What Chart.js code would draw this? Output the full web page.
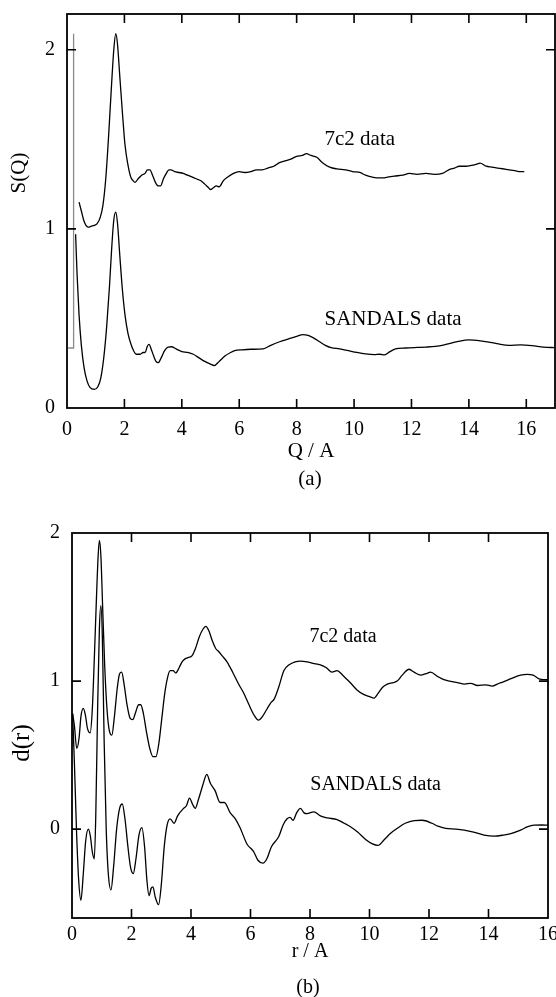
<!DOCTYPE html>
<html>
<head>
<meta charset="utf-8">
<script src="https://cdn.jsdelivr.net/npm/chart.js@4.4.1/dist/chart.umd.min.js"></script>
<style>
  html, body { margin: 0; padding: 0; background: #fff; }
  #wrap { position: relative; width: 556px; height: 997px; overflow: hidden; }
  canvas { position: absolute; left: 0; }
  #sq { top: 0; }
  #dr { top: 495px; }
</style>
</head>
<body>
<div id="wrap">
  <canvas id="sq" width="556" height="495"></canvas>
  <canvas id="dr" width="556" height="502"></canvas>
</div>
<script>
/* ---------- data: (a) S(Q) ---------- */
const qTicks = [0, 2, 4, 6, 8, 10, 12, 14, 16];
const sTicks = [0, 1, 2];

// small-angle step drawn in grey at the left edge
const qStep = [0.04, 0.23, 0.23];
const sStep = [0.335, 0.335, 2.09];

const qSandals = [0.30, 0.35, 0.42, 0.5, 0.6, 0.7, 0.8, 0.95, 1.08, 1.18, 1.28, 1.38, 1.48, 1.56, 1.63, 1.70, 1.76, 1.84, 1.93, 2.02,
  2.12, 2.22, 2.32, 2.42, 2.55, 2.65, 2.72, 2.80, 2.86, 2.93, 3.02, 3.10, 3.18, 3.28, 3.40, 3.52, 3.64, 3.8, 4.0, 4.2,
  4.4, 4.6, 4.8, 5.0, 5.13, 5.3, 5.5, 5.7, 5.84, 6.1, 6.4, 6.83, 7.1, 7.41, 7.7, 8.0, 8.22, 8.4, 8.6, 8.8,
  9.0, 9.2, 9.5, 9.8, 10.1, 10.4, 10.7, 10.9, 11.06, 11.25, 11.44, 11.8, 12.2, 12.5, 12.83, 13.2, 13.6, 14.0, 14.4, 14.8,
  15.1, 15.4, 15.8, 16.2, 16.6, 17.0];
const sSandals = [0.97, 0.75, 0.52, 0.35, 0.22, 0.15, 0.115, 0.104, 0.12, 0.17, 0.28, 0.45, 0.68, 0.90, 1.05, 1.094, 1.03, 0.85, 0.66, 0.52,
  0.42, 0.36, 0.32, 0.30, 0.30, 0.31, 0.31, 0.345, 0.355, 0.33, 0.29, 0.26, 0.253, 0.28, 0.32, 0.34, 0.342, 0.33, 0.315, 0.31,
  0.30, 0.28, 0.26, 0.245, 0.237, 0.26, 0.29, 0.31, 0.32, 0.325, 0.328, 0.33, 0.35, 0.37, 0.385, 0.40, 0.41, 0.405, 0.39, 0.37,
  0.35, 0.337, 0.33, 0.32, 0.31, 0.302, 0.298, 0.30, 0.297, 0.315, 0.33, 0.335, 0.338, 0.34, 0.344, 0.355, 0.37, 0.38, 0.375, 0.365,
  0.355, 0.35, 0.352, 0.348, 0.34, 0.337];

const q7c2 = [0.42, 0.5, 0.58, 0.66, 0.74, 0.85, 0.95, 1.05, 1.15, 1.25, 1.35, 1.45, 1.55, 1.63, 1.70, 1.76, 1.84, 1.93, 2.02, 2.12,
  2.22, 2.30, 2.37, 2.48, 2.60, 2.72, 2.80, 2.89, 2.98, 3.08, 3.18, 3.26, 3.36, 3.46, 3.55, 3.62, 3.75, 3.9, 4.05, 4.2,
  4.35, 4.5, 4.65, 4.8, 4.9, 5.0, 5.1, 5.2, 5.3, 5.45, 5.6, 5.8, 6.0, 6.2, 6.4, 6.6, 6.8, 7.0, 7.2, 7.4,
  7.6, 7.8, 8.0, 8.2, 8.34, 8.5, 8.7, 8.9, 9.15, 9.4, 9.7, 9.95, 10.2, 10.4, 10.6, 10.8, 11.0, 11.2, 11.4, 11.7,
  11.93, 12.2, 12.5, 12.8, 13.08, 13.3, 13.5, 13.67, 13.9, 14.1, 14.25, 14.39, 14.6, 14.8, 15.0, 15.17, 15.4, 15.6, 15.8, 15.93];
const s7c2 = [1.15, 1.10, 1.05, 1.02, 1.01, 1.015, 1.02, 1.03, 1.06, 1.13, 1.28, 1.52, 1.80, 2.00, 2.09, 2.03, 1.85, 1.65, 1.47, 1.36,
  1.29, 1.27, 1.26, 1.28, 1.30, 1.31, 1.33, 1.33, 1.30, 1.26, 1.24, 1.24, 1.28, 1.31, 1.33, 1.33, 1.32, 1.315, 1.31, 1.30,
  1.29, 1.28, 1.27, 1.25, 1.235, 1.22, 1.23, 1.24, 1.235, 1.27, 1.29, 1.31, 1.32, 1.315, 1.32, 1.33, 1.33, 1.34, 1.35, 1.37,
  1.38, 1.39, 1.405, 1.41, 1.42, 1.41, 1.40, 1.37, 1.345, 1.335, 1.33, 1.32, 1.315, 1.30, 1.29, 1.285, 1.285, 1.29, 1.295, 1.30,
  1.31, 1.305, 1.31, 1.305, 1.31, 1.33, 1.34, 1.35, 1.35, 1.355, 1.36, 1.367, 1.35, 1.345, 1.34, 1.336, 1.33, 1.325, 1.32, 1.32];

/* ---------- data: (b) d(r) ---------- */
const rTicks = [0, 2, 4, 6, 8, 10, 12, 14, 16];
const dTicks = [0, 1, 2];

const r7c2 = [0.02, 0.08, 0.16, 0.24, 0.30, 0.38, 0.45, 0.52, 0.61, 0.68, 0.75, 0.82, 0.88, 0.92, 0.97, 1.03, 1.10, 1.18, 1.26, 1.34,
  1.42, 1.52, 1.60, 1.67, 1.75, 1.85, 1.95, 2.04, 2.14, 2.24, 2.31, 2.40, 2.50, 2.62, 2.72, 2.82, 2.92, 3.02, 3.12, 3.22,
  3.3, 3.4, 3.49, 3.6, 3.7, 3.8, 3.92, 4.03, 4.15, 4.28, 4.4, 4.5, 4.6, 4.72, 4.83, 4.93, 5.05, 5.21, 5.4, 5.6,
  5.77, 5.95, 6.12, 6.27, 6.4, 6.55, 6.67, 6.8, 6.95, 7.12, 7.3, 7.5, 7.68, 7.9, 8.1, 8.35, 8.55, 8.74, 8.91, 9.1,
  9.35, 9.58, 9.8, 10.0, 10.15, 10.3, 10.45, 10.6, 10.8, 10.93, 11.1, 11.33, 11.5, 11.72, 11.9, 12.05, 12.3, 12.5, 12.7, 12.95,
  13.2, 13.4, 13.63, 13.9, 14.13, 14.3, 14.5, 14.8, 15.08, 15.3, 15.5, 15.7, 15.85, 16.0];
const d7c2 = [0.78, 0.70, 0.545, 0.62, 0.76, 0.815, 0.77, 0.68, 0.65, 0.80, 1.15, 1.55, 1.85, 1.95, 1.85, 1.50, 1.10, 0.80, 0.66, 0.635,
  0.75, 0.95, 1.05, 1.06, 0.98, 0.84, 0.75, 0.74, 0.79, 0.84, 0.84, 0.78, 0.66, 0.54, 0.49, 0.49, 0.58, 0.75, 0.92, 1.03,
  1.07, 1.07, 1.055, 1.09, 1.13, 1.15, 1.16, 1.17, 1.22, 1.30, 1.35, 1.37, 1.34, 1.27, 1.22, 1.20, 1.17, 1.13, 1.06, 0.98,
  0.92, 0.84, 0.77, 0.736, 0.76, 0.81, 0.85, 0.88, 0.96, 1.07, 1.11, 1.13, 1.135, 1.13, 1.12, 1.11, 1.09, 1.06, 1.07, 1.04,
  0.99, 0.94, 0.91, 0.895, 0.885, 0.92, 0.96, 0.98, 0.99, 1.00, 1.04, 1.08, 1.06, 1.04, 1.05, 1.06, 1.03, 1.01, 1.00, 0.99,
  0.98, 0.985, 0.97, 0.975, 0.966, 0.98, 0.995, 1.02, 1.04, 1.045, 1.04, 1.015, 1.01, 1.01];

const rSandals = [0.02, 0.08, 0.15, 0.22, 0.30, 0.38, 0.46, 0.55, 0.62, 0.68, 0.75, 0.80, 0.86, 0.92, 0.97, 1.02, 1.08, 1.15, 1.22, 1.31,
  1.40, 1.50, 1.60, 1.69, 1.78, 1.88, 1.97, 2.06, 2.15, 2.25, 2.35, 2.44, 2.52, 2.59, 2.66, 2.72, 2.80, 2.91, 3.00, 3.10,
  3.20, 3.30, 3.43, 3.55, 3.75, 3.85, 3.95, 4.05, 4.14, 4.25, 4.40, 4.53, 4.65, 4.81, 4.98, 5.12, 5.32, 5.49, 5.65, 5.88,
  6.1, 6.25, 6.42, 6.55, 6.70, 6.95, 7.10, 7.23, 7.33, 7.43, 7.55, 7.68, 7.8, 7.9, 8.13, 8.35, 8.58, 8.91, 9.15, 9.36,
  9.6, 9.87, 10.1, 10.28, 10.5, 10.7, 10.93, 11.2, 11.5, 11.77, 12.1, 12.3, 12.56, 12.9, 13.18, 13.5, 13.85, 14.19, 14.5, 14.75,
  15.1, 15.3, 15.53, 15.8, 16.0];
const dSandals = [0.78, 0.45, 0.0, -0.33, -0.48, -0.30, -0.08, 0.0, -0.05, -0.15, -0.20, 0.10, 0.80, 1.35, 1.51, 1.30, 0.60, 0.00, -0.30, -0.41,
  -0.25, 0.00, 0.14, 0.17, 0.07, -0.12, -0.26, -0.30, -0.20, -0.04, 0.01, -0.12, -0.35, -0.45, -0.40, -0.39, -0.46, -0.51, -0.38, -0.12,
  0.03, 0.07, 0.04, 0.09, 0.14, 0.16, 0.21, 0.17, 0.14, 0.20, 0.30, 0.37, 0.31, 0.26, 0.18, 0.18, 0.11, 0.07, 0.01, -0.10,
  -0.15, -0.21, -0.23, -0.20, -0.12, -0.05, 0.03, 0.07, 0.08, 0.06, 0.11, 0.14, 0.11, 0.105, 0.117, 0.09, 0.076, 0.065, 0.04, 0.016,
  -0.02, -0.07, -0.10, -0.11, -0.07, -0.03, 0.005, 0.04, 0.058, 0.06, 0.04, 0.02, 0.005, 0.0, -0.007, -0.02, -0.04, -0.047, -0.04, -0.03,
  -0.005, 0.015, 0.027, 0.028, 0.027];

/* ---------- helpers ---------- */
const SERIF = "'Liberation Serif', 'DejaVu Serif', 'Times New Roman', serif";

function series(xs, ys, color, smooth) {
  return {
    data: xs.map(function (x, i) { return { x: x, y: ys[i] }; }),
    borderColor: color,
    borderWidth: 1.3,
    pointRadius: 0,
    fill: false,
    tension: 0,
    cubicInterpolationMode: smooth ? 'monotone' : 'default',
  };
}

// closed frame with inward tick marks on all four sides
const framePlugin = {
  id: 'frame',
  afterDraw(chart, args, opts) {
    const ctx = chart.ctx, a = chart.chartArea;
    const xs = chart.scales.x, ys = chart.scales.y;
    ctx.save();
    ctx.strokeStyle = '#000';
    ctx.lineWidth = 1.8;
    ctx.strokeRect(a.left, a.top, a.right - a.left, a.bottom - a.top);
    ctx.lineWidth = 1.6;
    ctx.beginPath();
    xs.ticks.forEach(function (t) {
      const px = xs.getPixelForValue(t.value);
      if (px <= a.left + 2 || px >= a.right - 2) return;
      ctx.moveTo(px, a.bottom); ctx.lineTo(px, a.bottom - opts.len);
      ctx.moveTo(px, a.top); ctx.lineTo(px, a.top + opts.len);
    });
    ys.ticks.forEach(function (t) {
      const py = ys.getPixelForValue(t.value);
      if (py <= a.top + 2 || py >= a.bottom - 2) return;
      ctx.moveTo(a.left, py); ctx.lineTo(a.left + opts.len, py);
      ctx.moveTo(a.right, py); ctx.lineTo(a.right - opts.len, py);
    });
    ctx.stroke();
    ctx.restore();
  }
};

// series labels (data coords) and axis titles (canvas px)
const textPlugin = {
  id: 'texts',
  afterDraw(chart, args, opts) {
    const ctx = chart.ctx;
    ctx.save();
    ctx.fillStyle = '#000';
    (opts.notes || []).forEach(function (n) {
      ctx.font = n.size + 'px ' + SERIF;
      ctx.textAlign = 'left';
      ctx.textBaseline = 'middle';
      ctx.fillText(n.text, chart.scales.x.getPixelForValue(n.x), chart.scales.y.getPixelForValue(n.y));
    });
    (opts.titles || []).forEach(function (t) {
      ctx.save();
      ctx.font = t.size + 'px ' + SERIF;
      ctx.textAlign = 'center';
      ctx.textBaseline = 'middle';
      ctx.translate(t.px, t.py);
      if (t.rotate) ctx.rotate(-Math.PI / 2);
      ctx.fillText(t.text, 0, 0);
      ctx.restore();
    });
    ctx.restore();
  }
};

function makeChart(id, cfg) {
  return new Chart(document.getElementById(id), {
    type: 'line',
    data: { datasets: cfg.datasets },
    options: {
      responsive: false,
      animation: false,
      layout: { padding: cfg.padding },
      plugins: {
        legend: { display: false },
        tooltip: { enabled: false },
        frame: { len: 9 },
        texts: { notes: cfg.notes, titles: cfg.titles },
      },
      scales: {
        x: {
          type: 'linear',
          min: cfg.xMin, max: cfg.xMax,
          grid: { display: false, drawTicks: false },
          border: { display: false },
          ticks: { padding: cfg.xPad, color: '#000', font: { family: SERIF, size: 20 }, maxRotation: 0 },
          afterBuildTicks: function (s) { s.ticks = cfg.xTicks.map(function (v) { return { value: v }; }); },
          afterFit: function (s) { s.height = cfg.xHeight; s.paddingLeft = 0; s.paddingRight = 0; },
        },
        y: {
          type: 'linear',
          min: cfg.yMin, max: cfg.yMax,
          grid: { display: false, drawTicks: false },
          border: { display: false },
          ticks: { padding: 12, color: '#000', font: { family: SERIF, size: 20 } },
          afterBuildTicks: function (s) { s.ticks = cfg.yTicks.map(function (v) { return { value: v }; }); },
          afterFit: function (s) { s.width = cfg.yWidth; s.paddingTop = 0; s.paddingBottom = 0; },
        },
      },
    },
    plugins: [framePlugin, textPlugin],
  });
}

/* ---------- (a) ---------- */
makeChart('sq', {
  datasets: [
    series(qStep, sStep, '#8a8a8a', false),
    series(qSandals, sSandals, '#000', true),
    series(q7c2, s7c2, '#000', true),
  ],
  xMin: 0, xMax: 17, yMin: 0, yMax: 2.2,
  xTicks: qTicks, yTicks: sTicks,
  padding: { top: 14, right: 1, bottom: 0, left: 0 },
  yWidth: 67, xHeight: 87, xPad: 10,
  notes: [
    { text: '7c2 data', x: 8.97, y: 1.50, size: 21 },
    { text: 'SANDALS data', x: 8.97, y: 0.495, size: 21 },
  ],
  titles: [
    { text: 'S(Q)', px: 19, py: 173, size: 21, rotate: true },
    { text: 'Q / A', px: 311, py: 451, size: 21 },
    { text: '(a)', px: 310, py: 479, size: 21 },
  ],
});

/* ---------- (b) ---------- */
makeChart('dr', {
  datasets: [
    series(rSandals, dSandals, '#000', true),
    series(r7c2, d7c2, '#000', true),
  ],
  xMin: 0, xMax: 16, yMin: -0.6, yMax: 2,
  xTicks: rTicks, yTicks: dTicks,
  padding: { top: 38, right: 8, bottom: 0, left: 0 },
  yWidth: 72, xHeight: 79, xPad: 5,
  notes: [
    { text: '7c2 data', x: 7.98, y: 1.30, size: 20 },
    { text: 'SANDALS data', x: 8.01, y: 0.297, size: 20 },
  ],
  titles: [
    { text: 'd(r)', px: 22, py: 248, size: 25, rotate: true },
    { text: 'r / A', px: 310, py: 457, size: 20 },
    { text: '(b)', px: 308, py: 493, size: 20 },
  ],
});
</script>
</body>
</html>
